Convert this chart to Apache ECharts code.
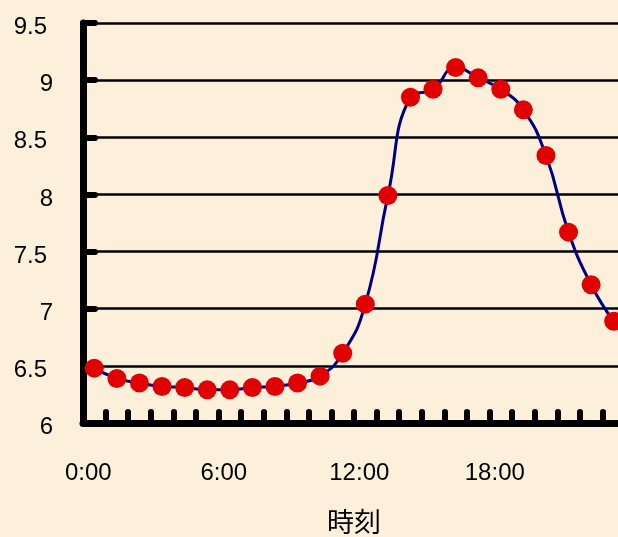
<!DOCTYPE html>
<html>
<head>
<meta charset="utf-8">
<script src="https://cdn.jsdelivr.net/npm/echarts@6/dist/echarts.min.js"></script>
<style>
  html, body { margin: 0; padding: 0; background: #fcf0da; }
  #chart { width: 618px; height: 537px; }
</style>
</head>
<body>
<div id="chart"></div>
<script>
var hours = ['0:00', '1:00', '2:00', '3:00', '4:00', '5:00', '6:00', '7:00',
  '8:00', '9:00', '10:00', '11:00', '12:00', '13:00', '14:00', '15:00',
  '16:00', '17:00', '18:00', '19:00', '20:00', '21:00', '22:00', '23:00'];
var values = [6.48, 6.39, 6.35, 6.32, 6.31, 6.29, 6.29, 6.31,
  6.32, 6.35, 6.41, 6.61, 7.04, 7.99, 8.85, 8.92,
  9.11, 9.02, 8.92, 8.74, 8.34, 7.67, 7.21, 6.89];
var axisName = '時刻';

function initChart(dom) {
  var myChart = echarts.init(dom),
    option = {
      backgroundColor: '#fcf0da',
      textStyle: {
        fontFamily: 'Liberation Sans, Arial, sans-serif'
      },
      grid: {
        left: 83,
        top: 23,
        bottom: 114,
        width: 542,
        outerBoundsMode: 'none',
        containLabel: false
      },
      xAxis: {
        type: 'category',
        boundaryGap: true,
        data: hours,
        name: axisName,
        nameLocation: 'middle',
        nameGap: 85,
        nameTextStyle: {
          color: '#000',
          fontSize: 27,
          fontFamily: 'Noto Sans CJK JP, sans-serif'
        },
        axisLine: {
          lineStyle: { color: '#000', width: 7, cap: 'round' }
        },
        axisTick: {
          show: true,
          inside: true,
          interval: 0,
          length: 11,
          lineStyle: { color: '#000', width: 6, cap: 'round' }
        },
        axisLabel: {
          interval: 5,
          color: '#000',
          fontSize: 24,
          margin: 38,
          padding: [0, 12, 0, 0]
        },
        splitLine: { show: false }
      },
      yAxis: {
        type: 'value',
        min: 6,
        max: 9.5,
        interval: 0.5,
        axisLine: {
          show: true,
          lineStyle: { color: '#000', width: 7, cap: 'round' }
        },
        axisTick: {
          show: true,
          inside: true,
          length: 12,
          lineStyle: { color: '#000', width: 6, cap: 'round' }
        },
        axisLabel: {
          color: '#000',
          fontSize: 24,
          margin: 30,
          formatter: function (v) {
            return v % 1 === 0 ? '{i|' + v + '}' : '{d|' + v + '}';
          },
          rich: {
            i: { fontSize: 24, color: '#000', padding: [9, 0, 0, 0] },
            d: { fontSize: 24, color: '#000', padding: [9, 6, 0, 0] }
          }
        },
        splitLine: {
          show: true,
          lineStyle: { color: '#000', width: 2.5 }
        }
      },
      series: [
        {
          type: 'line',
          data: values,
          smooth: 0.5,
          showAllSymbol: true,
          symbol: 'circle',
          symbolSize: 19,
          lineStyle: { color: '#000080', width: 3 },
          itemStyle: { color: '#e00000', borderWidth: 0 },
          z: 5
        }
      ]
    };
  myChart.setOption(option, true);
  return myChart;
}

initChart(document.getElementById('chart'));
</script>
</body>
</html>
